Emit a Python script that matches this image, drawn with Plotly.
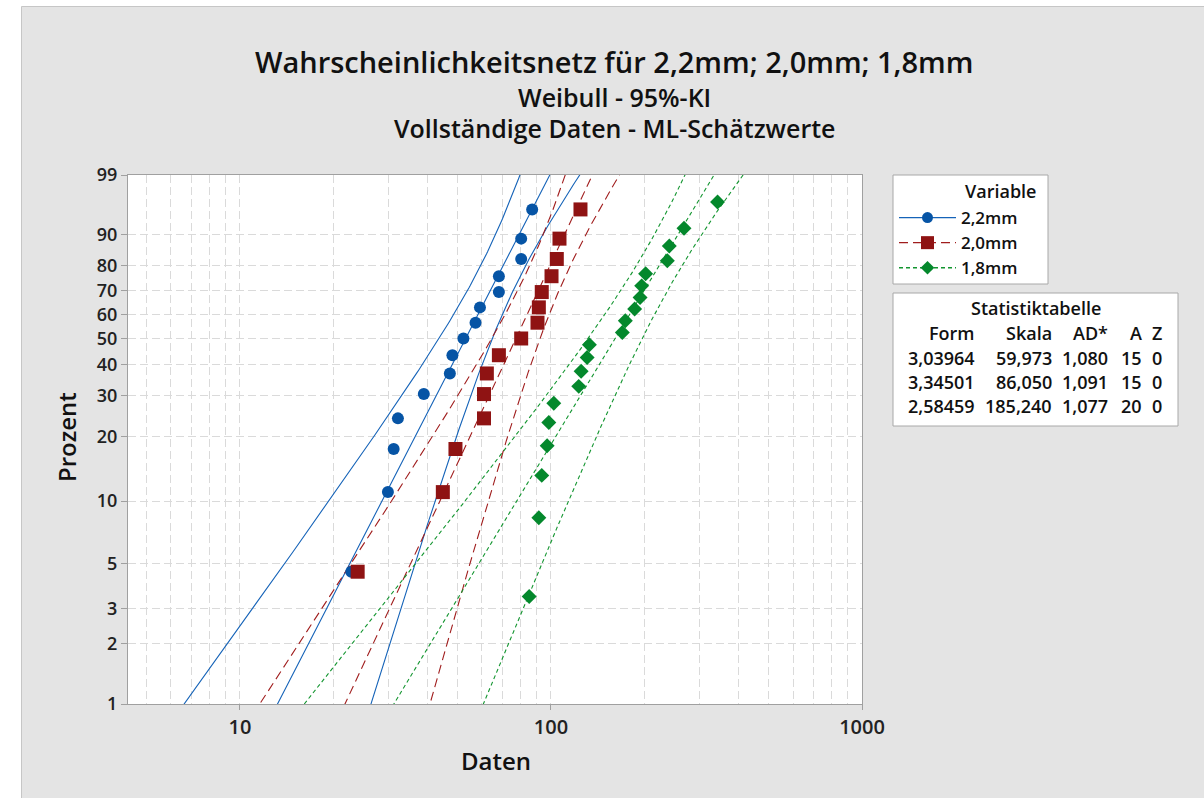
import numpy as np
import plotly.graph_objects as go

# ---- Data -------------------------------------------------------------
variablen = ["2,2mm", "2,0mm", "1,8mm"]

# Sorted observations (Daten) per variant
daten_22 = [22.8, 29.9, 31.2, 32.2, 39.0, 47.3, 48.2, 52.3, 57.2, 59.1,
            68.0, 68.0, 80.2, 80.2, 87.0]
daten_20 = [23.9, 44.9, 49.3, 60.9, 60.9, 62.2, 68.0, 80.2, 90.5, 91.4,
            93.4, 100.4, 104.4, 106.5, 124.4]
daten_18 = [85.1, 91.4, 93.4, 97.2, 98.4, 102.1, 122.8, 125.0, 130.7, 132.9,
            169.6, 173.4, 185.8, 193.4, 195.7, 201.5, 236.6, 240.1, 267.7, 343.2]

# Statistiktabelle (ML estimates)
form = [3.03964, 3.34501, 2.58459]
skala = [59.973, 86.050, 185.240]
ad_stern = [1.080, 1.091, 1.077]
anzahl = [15, 15, 20]
zensiert = [0, 0, 0]

y_tick_pct = [1, 2, 3, 5, 10, 20, 30, 40, 50, 60, 70, 80, 90, 99]
x_tick_vals = [10, 100, 1000]
x_minor_vals = [5, 6, 7, 8, 9, 20, 30, 40, 50, 60, 70, 80, 90,
                200, 300, 400, 500, 600, 700, 800, 900]

# ---- Styles -----------------------------------------------------------
farben = ["#0654a5", "#8f1313", "#04882c"]
linienfarben = ["#1563b8", "#a01d1d", "#12952f"]
symbole = ["circle", "square", "diamond"]
groessen = [12, 14, 11.5]
striche = ["solid", "9px,5px", "4px,3px"]
FONT = "Open Sans"

W, H = 1204, 798
ML, MR, MT, MB = 128, 342, 175, 94
PW, PH = W - ML - MR, H - MT - MB


def px_x(p):
    return (p - ML) / PW


def px_y(p):
    return (H - MB - p) / PH


def weibull_y(pct):
    p = np.asarray(pct, dtype=float) / 100.0
    return np.log(-np.log(1.0 - p))


def median_ranks(n):
    i = np.arange(1, n + 1)
    return 100.0 * (i - 0.3) / (n + 0.4)


def fit_and_ci(data, beta, eta, yq, z=1.959964):
    """ML line and 95% bounds on ln(percentile) from the observed information."""
    lx = np.log(np.asarray(data, dtype=float))
    mu, sig = np.log(eta), 1.0 / beta
    zz = (lx - mu) / sig
    ez = np.exp(zz)
    i11 = ez.sum() / sig**2
    i12 = -(1 - ez - zz * ez).sum() / sig**2
    i22 = -(1 + 2 * zz - 2 * zz * ez - zz**2 * ez).sum() / sig**2
    cov = np.linalg.inv(np.array([[i11, i12], [i12, i22]]))
    var = cov[0, 0] + yq**2 * cov[1, 1] + 2 * yq * cov[0, 1]
    lt = mu + yq * sig
    hw = z * np.sqrt(var)
    return np.exp(lt), np.exp(lt - hw), np.exp(lt + hw)


datensaetze = [daten_22, daten_20, daten_18]
yq = np.linspace(weibull_y(0.3), weibull_y(99.9), 300)

fig = go.Figure()

for k in range(3):
    mitte, unten, oben = fit_and_ci(datensaetze[k], form[k], skala[k], yq)
    for xs in (mitte, unten, oben):
        fig.add_trace(go.Scatter(
            x=xs, y=yq, mode="lines", showlegend=False, hoverinfo="skip",
            line=dict(color=linienfarben[k], width=1.1, dash=striche[k])))

for k in range(3):
    d = datensaetze[k]
    fig.add_trace(go.Scatter(
        x=d, y=weibull_y(median_ranks(len(d))), mode="markers",
        showlegend=False, name=variablen[k],
        marker=dict(symbol=symbole[k], size=groessen[k], color=farben[k],
                    line=dict(width=0))))

# legend entries (line + marker)
for k in range(3):
    fig.add_trace(go.Scatter(
        x=[None], y=[None], mode="lines+markers", name=variablen[k],
        line=dict(color=linienfarben[k], width=1.3, dash=striche[k]),
        marker=dict(symbol=symbole[k], size=groessen[k] - 1, color=farben[k])))

# ---- Layout -----------------------------------------------------------
shapes = [
    dict(type="rect", xref="paper", yref="paper", layer="below",
         x0=px_x(21.5), x1=px_x(W + 10), y0=px_y(6.5), y1=px_y(H + 10),
         fillcolor="#e4e4e4", line=dict(color="#c6c6c6", width=1)),
    dict(type="rect", xref="paper", yref="paper", layer="below",
         x0=0, x1=1, y0=0, y1=1, fillcolor="white", line=dict(width=0)),
    # legend frame
    dict(type="rect", xref="paper", yref="paper", layer="below",
         x0=px_x(893), x1=px_x(1048), y0=px_y(175), y1=px_y(284),
         fillcolor="white", line=dict(color="#a8a8a8", width=1)),
    # table frame
    dict(type="rect", xref="paper", yref="paper", layer="below",
         x0=px_x(893), x1=px_x(1178), y0=px_y(293), y1=px_y(426),
         fillcolor="white", line=dict(color="#a8a8a8", width=1)),
]

annotations = []


def text(s, x, y, size, weight=400, xanchor="center", color="#111111", angle=0):
    annotations.append(dict(
        text=s, x=px_x(x), y=px_y(y), xref="paper", yref="paper",
        xanchor=xanchor, yanchor="middle", showarrow=False, textangle=angle,
        font=dict(family=FONT, size=size, color=color, weight=weight)))


text("Wahrscheinlichkeitsnetz für 2,2mm; 2,0mm; 1,8mm", 614, 62, 29, 600)
text("Weibull - 95%-KI", 614, 97, 25, 600)
text("Vollständige Daten - ML-Schätzwerte", 614, 128, 25, 600)
text("Daten", 496, 760, 24, 600)
text("Prozent", 66, 437, 24, 600, angle=-90)
text("Variable", 963, 191.5, 18, 600, xanchor="left")

# Statistiktabelle
def de(v, nd):
    return f"{v:,.{nd}f}".replace(",", "X").replace(".", ",").replace("X", ".")


text("Statistiktabelle", 1036, 308, 18, 600)
spalten_r = [977, 1054, 1110, 1144, 1164]
kopf = ["Form", "Skala", "AD*", "A", "Z"]
for c in range(5):
    text(kopf[c], spalten_r[c], 333, 18, 600, xanchor="right")
for r in range(3):
    werte = [de(form[r], 5), de(skala[r], 3), de(ad_stern[r], 3),
             str(anzahl[r]), str(zensiert[r])]
    for c in range(5):
        text(werte[c], spalten_r[c], 357.5 + 24 * r, 18, 600, xanchor="right")

fig.update_layout(
    width=W, height=H,
    margin=dict(l=ML, r=MR, t=MT, b=MB, pad=0),
    paper_bgcolor="white", plot_bgcolor="white",
    font=dict(family=FONT, color="#222222"),
    shapes=shapes, annotations=annotations,
    legend=dict(
        x=px_x(894), y=px_y(200), xanchor="left", yanchor="top",
        bgcolor="rgba(0,0,0,0)", borderwidth=0,
        font=dict(family=FONT, size=17, color="#111111", weight=600),
        itemwidth=57, tracegroupgap=0),
    xaxis=dict(
        type="log", range=[np.log10(4.365), 3], showline=True, mirror=True,
        linecolor="#a0a0a0", linewidth=1, tickvals=x_tick_vals,
        ticktext=[str(v) for v in x_tick_vals], ticks="outside", ticklen=5,
        tickcolor="#a0a0a0",
        tickfont=dict(family=FONT, size=20, color="#222222", weight=600),
        showgrid=True, gridcolor="#dadada", griddash="8px,4px", gridwidth=1,
        minor=dict(tickvals=x_minor_vals, showgrid=True, gridcolor="#dadada",
                   griddash="8px,4px", gridwidth=1, ticks=""),
        zeroline=False),
    yaxis=dict(
        range=[weibull_y(1), weibull_y(99)], showline=True, mirror=True,
        linecolor="#a0a0a0", linewidth=1,
        tickvals=list(weibull_y(y_tick_pct)),
        ticktext=[str(v) for v in y_tick_pct], ticks="outside", ticklen=6,
        tickcolor="#a0a0a0",
        tickfont=dict(family=FONT, size=18, color="#222222", weight=600),
        showgrid=True, gridcolor="#dadada", griddash="8px,4px", gridwidth=1,
        zeroline=False),
)

fig.write_html("out.html")
